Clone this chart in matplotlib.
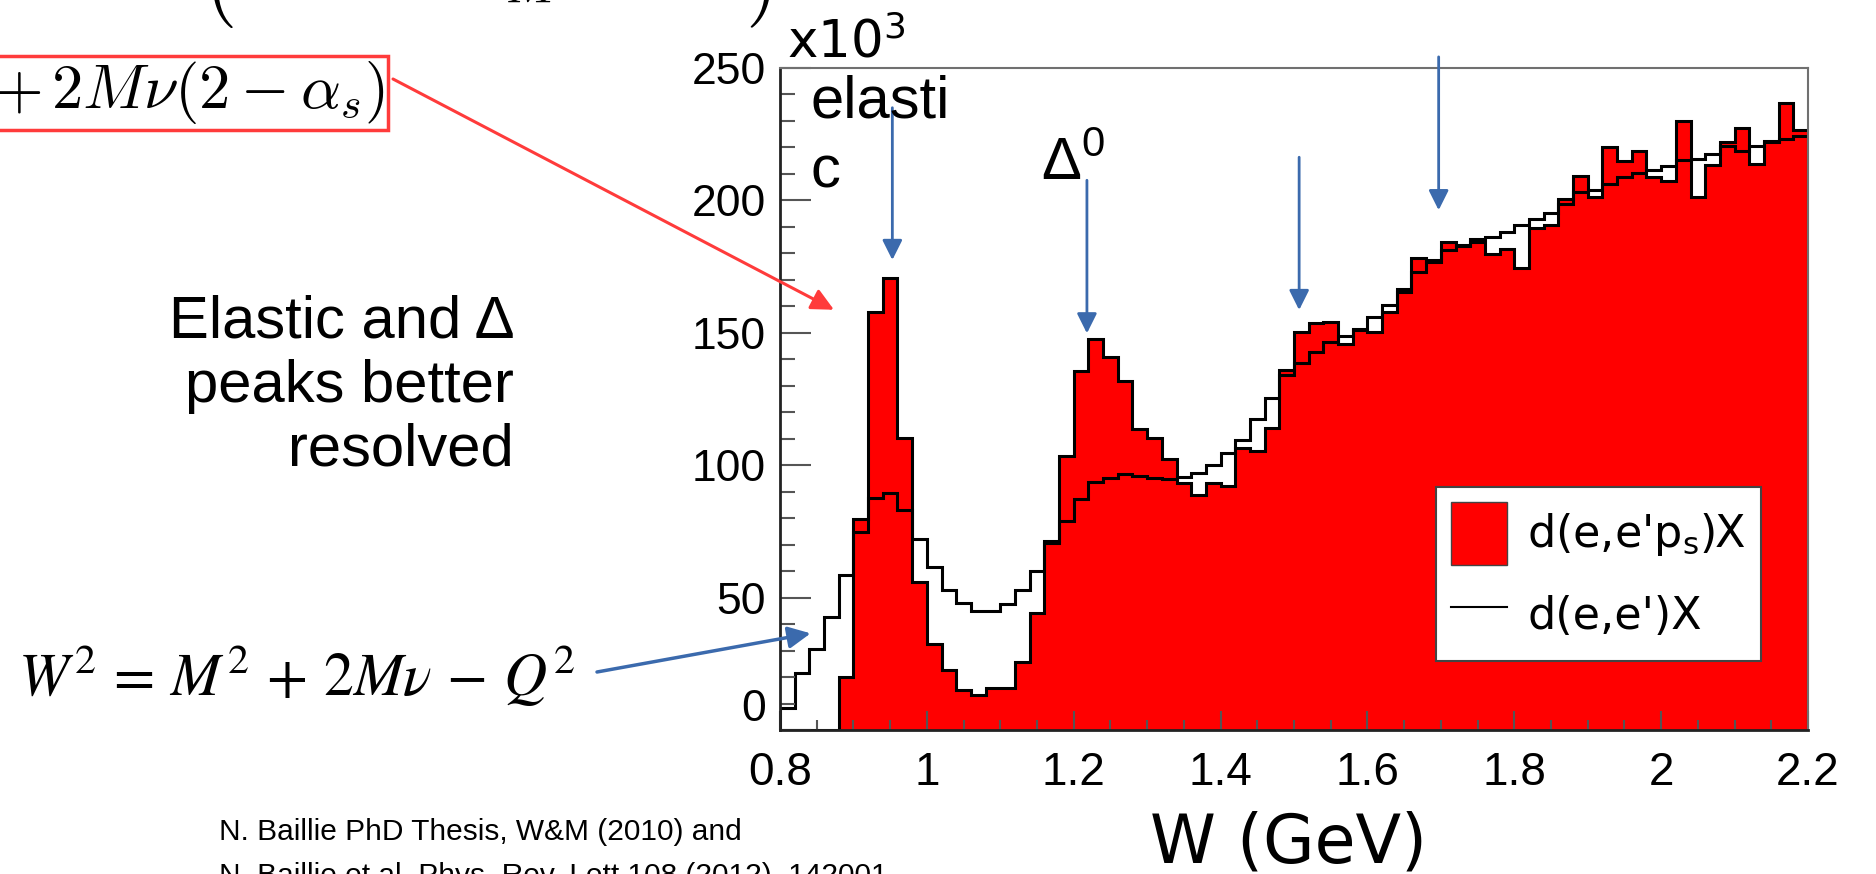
import numpy as np
import matplotlib.pyplot as plt
from matplotlib.ticker import MultipleLocator
from matplotlib.patches import Patch
from matplotlib.lines import Line2D

plt.rcParams['font.family'] = ['Liberation Sans', 'DejaVu Sans']

# W binning (GeV): 70 bins of 0.02 between 0.8 and 2.2
w_edges = np.linspace(0.8, 2.2, 71)

# counts per bin, units of 10^3
tagged = [0, 0, 0, 0, 20.0, 79.7, 158.0, 170.8, 110.3, 56.0,
          32.6, 22.7, 15.2, 13.2, 16.0, 16.0, 25.6, 44.2, 70.5, 103.4,
          135.7, 147.7, 140.8, 131.9, 113.5, 110.1, 102.4, 93.4, 88.7, 93.4,
          92.0, 106.6, 105.3, 114.2, 135.9, 150.4, 153.6, 154.0, 145.9, 151.2,
          150.4, 158.0, 165.5, 178.3, 176.7, 184.2, 182.6, 184.3, 179.9, 181.5,
          174.3, 189.6, 190.6, 200.5, 209.4, 201.4, 220.0, 214.8, 218.8, 208.7,
          207.4, 230.0, 201.4, 213.5, 221.9, 227.5, 213.8, 222.1, 236.9, 226.7]
inclusive = [8.4, 21.6, 30.6, 42.5, 58.4, 74.9, 87.6, 89.5, 83.1, 72.1,
             61.4, 53.0, 48.1, 45.1, 45.1, 47.6, 52.8, 60.0, 71.5, 79.0,
             87.1, 93.6, 95.3, 96.5, 95.9, 95.0, 94.7, 95.5, 97.2, 100.0,
             104.7, 109.7, 117.5, 125.3, 134.0, 138.7, 142.9, 146.7, 148.8, 151.5,
             156.1, 160.5, 166.7, 173.0, 177.6, 181.2, 183.1, 185.5, 186.2, 188.0,
             190.7, 193.1, 195.3, 198.7, 203.1, 204.0, 206.1, 208.7, 210.3, 211.3,
             213.1, 215.1, 215.6, 217.5, 220.6, 218.8, 220.6, 222.5, 223.1, 224.2]

xticks = [0.8, 1.0, 1.2, 1.4, 1.6, 1.8, 2.0, 2.2]
xtick_labels = ['0.8', '1', '1.2', '1.4', '1.6', '1.8', '2', '2.2']
yticks = [0, 50, 100, 150, 200, 250]

# blue arrows marking the peaks: (W, tip, tail)
peak_w = [0.953, 1.218, 1.507, 1.697]
peak_tip = [177.5, 149.8, 158.6, 196.3]
peak_tail = [235.0, 207.6, 216.3, 254.2]

W_PX, H_PX = 1876, 874
def fx(px):
    return px / W_PX
def fy(py):
    return 1 - py / H_PX

blue = '#3b6aad'
red_line = '#ff3b3b'

fig = plt.figure(figsize=(18.76, 8.74), dpi=100)
ax = fig.add_axes([fx(780), fy(730), (1808 - 780) / W_PX, (730 - 68) / H_PX])

ax.stairs(tagged, w_edges, fill=True, color='#ff0000', lw=0)
ax.stairs(tagged, w_edges, color='black', lw=2.2)
ax.stairs(inclusive, w_edges, color='black', lw=2.2)

ax.set_xlim(0.8, 2.2)
ax.set_ylim(0, 249)
ax.set_xticks(xticks)
ax.set_xticklabels(xtick_labels, fontsize=33)
ax.set_yticks(yticks)
ax.set_yticklabels([str(v) for v in yticks], fontsize=32)
ax.get_yticklabels()[0].set_va('bottom')
ax.xaxis.set_minor_locator(MultipleLocator(0.05))
ax.yaxis.set_minor_locator(MultipleLocator(10))
ax.tick_params(which='both', direction='in', top=False, right=False, color='#555555', width=1.5)
ax.tick_params(axis='y', which='major', length=22, pad=10)
ax.tick_params(axis='y', which='minor', length=11)
ax.tick_params(axis='x', which='major', length=14, pad=15)
ax.tick_params(axis='x', which='minor', length=7)
for s in ['left', 'bottom']:
    ax.spines[s].set_linewidth(2)
    ax.spines[s].set_color('#222222')
for s in ['top', 'right']:
    ax.spines[s].set_linewidth(1.5)
    ax.spines[s].set_color('#707070')

ax.set_xlabel('W (GeV)', fontsize=48, family='DejaVu Sans')
ax.xaxis.set_label_coords(0.495, -0.122)

# legend
handles = [Patch(facecolor='#ff0000', edgecolor='#444444', lw=1),
           Line2D([], [], color='black', lw=1.5)]
labels = ["d(e,e'p$_\\mathregular{s}$)X", "d(e,e')X"]
leg = ax.legend(handles, labels, loc='upper left', bbox_to_anchor=(0.638, 0.367),
                borderaxespad=0, prop={'family': 'DejaVu Sans', 'size': 32},
                handlelength=1.28, handleheight=1.8, handletextpad=0.45,
                labelspacing=0.43, borderpad=0.33, fancybox=False, framealpha=1)
leg.get_frame().set_edgecolor('#444444')
leg.get_frame().set_linewidth(1.5)

# peak arrows
for w, tip, tail in zip(peak_w, peak_tip, peak_tail):
    ax.annotate('', xy=(w, tip), xytext=(w, tail), annotation_clip=False,
                arrowprops=dict(arrowstyle='-|>,head_length=0.4,head_width=0.2',
                                color=blue, lw=2, shrinkA=0, shrinkB=0, mutation_scale=30))

# annotations in the plot
fig.text(fx(787), fy(58), 'x10$^\\mathregular{3}$', fontsize=37, va='baseline', family='DejaVu Sans')
fig.text(fx(810), fy(118), 'elasti', fontsize=43, va='baseline')
fig.text(fx(810), fy(187), 'c', fontsize=43, va='baseline')
fig.text(fx(1041), fy(180), '\u0394$^\\mathregular{0}$', fontsize=43, va='baseline')

# slide text on the left
fig.text(fx(514), fy(295), 'Elastic and \u0394\npeaks better\nresolved',
         fontsize=43, ha='right', va='top', multialignment='right', linespacing=1.2)
fig.text(fx(18), fy(695), r'$W^2 \,=\, M^2 \,+\, 2M\nu \,-\, Q^2$', fontsize=43,
         va='baseline', math_fontfamily='stix')
fig.text(fx(385), fy(93), r'$+\,2M\nu(2-\alpha_s)$', fontsize=45, ha='right', va='center',
         math_fontfamily='cm',
         bbox=dict(boxstyle='square,pad=0.05', fc='none', ec=red_line, lw=2.5))
# lower edge of a larger formula, cut by the top of the slide
fig.text(fx(204), fy(30), r'$($', fontsize=60, va='bottom', math_fontfamily='cm')
fig.text(fx(505), fy(12), r'$M$', fontsize=36, va='bottom', math_fontfamily='cm')
fig.text(fx(745), fy(30), r'$)$', fontsize=60, va='bottom', math_fontfamily='cm')

ax.annotate('', xy=(0.8735, 158.7), xytext=(fx(393), fy(79)), textcoords='figure fraction',
            annotation_clip=False,
            arrowprops=dict(arrowstyle='-|>,head_length=0.45,head_width=0.22',
                            color=red_line, lw=2.2, shrinkA=0, shrinkB=0, mutation_scale=30))
ax.annotate('', xy=(0.8417, 36.5), xytext=(fx(597), fy(672)), textcoords='figure fraction',
            annotation_clip=False,
            arrowprops=dict(arrowstyle='-|>,head_length=0.45,head_width=0.22',
                            color=blue, lw=2.5, shrinkA=0, shrinkB=0, mutation_scale=30))

fig.text(fx(219), fy(840), 'N. Baillie PhD Thesis, W&M (2010) and', fontsize=21.5,
         va='baseline')
fig.text(fx(219), fy(884), 'N. Baillie et al. Phys. Rev. Lett 108 (2012), 142001', fontsize=21.5,
         va='baseline')

fig.savefig('out.png', dpi=100)
